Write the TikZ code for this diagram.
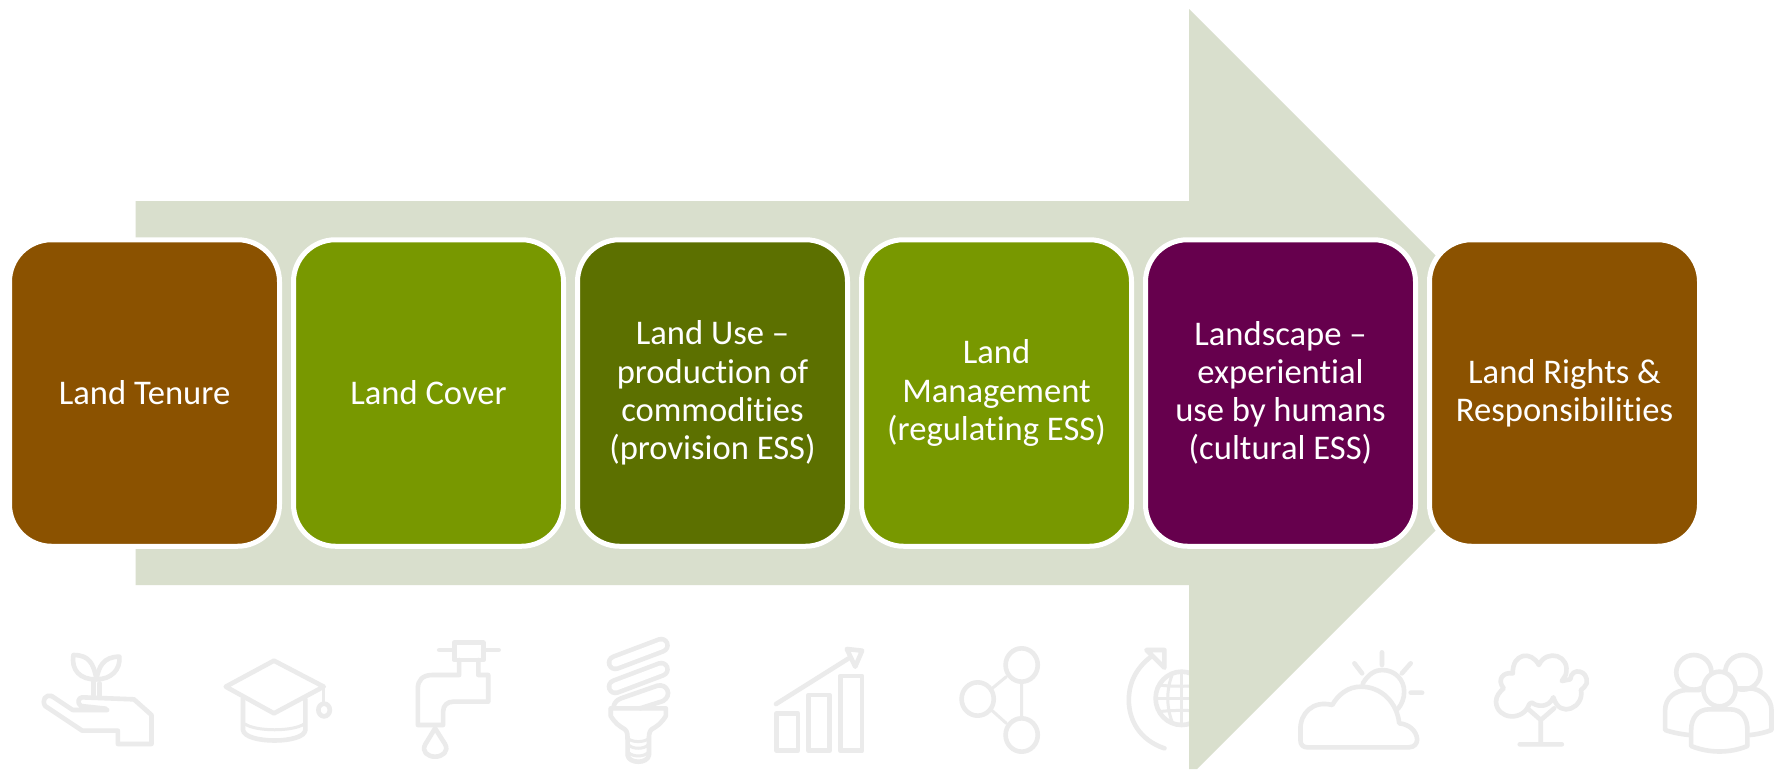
\documentclass[tikz,border=0pt]{standalone}
\usepackage{fontspec}
\setmainfont[Ligatures=CommonOff]{Carlito}
\definecolor{brownbox}{HTML}{8B5200}
\definecolor{greenbox}{HTML}{789800}
\definecolor{darkgreenbox}{HTML}{5C7000}
\definecolor{purplebox}{HTML}{66004D}
\definecolor{arrowfill}{HTML}{D9DFCD}
\definecolor{iconline}{HTML}{EBEBEB}
\tikzset{
  landbox/.style={draw=white,line width=5pt,rounded corners=42pt,minimum width=270pt,minimum height=306.5pt,
    inner sep=0pt,outer sep=0pt,text=white,align=center,font=\fontsize{34.6}{38.2}\selectfont,anchor=center},
  iconstroke/.style={draw=iconline,line width=4.6pt,line cap=round,line join=round},
  iconthin/.style={draw=iconline,line width=3pt,line cap=round,line join=round},
  iconpill/.style={draw=iconline,line width=4.6pt,line cap=round,double=white,double distance=8pt},
  zoomA/.style={x=0.38265pt,y=-0.33333pt,xshift=0pt,yshift=-620pt},
  zoomB/.style={x=0.38265pt,y=-0.33333pt,xshift=600pt,yshift=-620pt},
  zoomC/.style={x=0.38265pt,y=-0.33333pt,xshift=1183pt,yshift=-620pt},
}
\begin{document}
\begin{tikzpicture}[x=1pt,y=-1pt]
\useasboundingbox (0,0) rectangle (1783,769);
\fill[white] (0,0) rectangle (1783,769);
% icons, left group
\begin{scope}[zoomA]
  % hand with sprout
  \draw[iconstroke] (280,270) -- (190,270) -- (135,228) .. controls (120,222) and (108,240) .. (118,258) -- (215,332) -- (308,332) -- (308,372) -- (396,372) -- (396,285) -- (350,238) -- (215,232) .. controls (205,232) and (200,250) .. (212,258) -- (276,266);
  \draw[iconstroke] (245,185) -- (245,225) (260,190) -- (260,228);
  \draw[iconstroke] (192,105) .. controls (185,150) and (210,180) .. (252,178) .. controls (245,130) and (232,105) .. (192,105);
  \draw[iconstroke] (312,110) .. controls (270,110) and (258,140) .. (252,178) .. controls (290,178) and (315,150) .. (312,110);
  % mortarboard
  \draw[iconstroke] (716,122) -- (846,200) -- (716,280) -- (590,200) -- cycle;
  \draw[iconstroke] (635,235) -- (635,330) .. controls (640,372) and (795,372) .. (798,330) -- (798,238);
  \draw[iconthin] (640,312) .. controls (670,335) and (765,335) .. (795,312);
  \draw[iconthin] (846,200) -- (846,248);
  \draw[iconstroke] (847,270) ellipse (15 and 19);
  % faucet
  \draw[iconstroke] (1187,68) rectangle (1263,120);
  \draw[iconstroke] (1148,90) -- (1187,90) (1263,90) -- (1303,90);
  \draw[iconstroke] (1200,120) -- (1200,165) -- (1130,165) .. controls (1105,165) and (1092,180) .. (1092,205) -- (1092,315) -- (1158,315) -- (1158,275) .. controls (1158,255) and (1170,245) .. (1185,245) -- (1276,245) -- (1276,165) -- (1250,165) -- (1250,120);
  \draw[iconstroke] (1137,325) -- (1112,372) .. controls (1100,395) and (1118,410) .. (1137,410) .. controls (1156,410) and (1174,395) .. (1163,372) -- cycle;
\end{scope}
% icons, middle group
\begin{scope}[zoomB]
  % bulb
  \draw[iconpill] (40,128) -- (160,76);
  \draw[iconpill] (40,200) -- (160,148);
  \draw[iconstroke] (35,262) .. controls (38,245) and (45,240) .. (55,235) -- (150,197) .. controls (175,190) and (190,225) .. (165,243) -- (105,265);
  \draw[iconstroke] (28,265) -- (172,265) -- (172,288) .. controls (160,310) and (150,318) .. (135,328) .. controls (128,335) and (128,345) .. (128,360) -- (128,405) .. controls (125,432) and (75,432) .. (72,405) -- (72,360) .. controls (72,345) and (72,335) .. (65,328) .. controls (50,318) and (40,310) .. (28,288) -- cycle;
  \draw[iconthin] (75,375) .. controls (85,388) and (115,388) .. (125,375);
  \draw[iconthin] (75,398) .. controls (85,411) and (115,411) .. (125,398);
  \draw[iconthin] (72,355) .. controls (85,368) and (115,368) .. (128,355);
  % chart
  \draw[iconstroke] (462,280) rectangle (517,392);
  \draw[iconstroke] (545,225) rectangle (600,392);
  \draw[iconstroke] (628,168) rectangle (685,392);
  \draw[iconstroke] (460,252) -- (650,115);
  \draw[iconstroke] (645,87) -- (685,92) -- (667,140) -- cycle;
  % network
  \draw[iconstroke] (1102,135) ellipse (42 and 50);
  \draw[iconstroke] (987,237) ellipse (42 and 50);
  \draw[iconstroke] (1102,345) ellipse (42 and 50);
  \draw[iconthin] (1025,205) -- (1062,170) (1025,272) -- (1062,310) (1102,185) -- (1102,295);
  % globe with arrow
  \draw[iconstroke] (1475,385) .. controls (1410,360) and (1382,300) .. (1382,240) .. controls (1382,190) and (1400,145) .. (1440,110);
  \draw[iconstroke] (1428,90) -- (1475,90) -- (1475,143) -- cycle;
  \draw[iconstroke] (1520,235) ellipse (68 and 80);
  \draw[iconthin] (1520,155) -- (1520,315) (1452,235) -- (1590,235);
  \draw[iconthin] (1462,195) .. controls (1490,200) and (1550,200) .. (1580,195);
  \draw[iconthin] (1462,275) .. controls (1490,270) and (1550,270) .. (1580,275);
  \draw[iconthin] (1495,165) .. controls (1480,210) and (1480,260) .. (1495,305);
\end{scope}
% the big arrow
\fill[arrowfill] (135.5,201) -- (1189,201) -- (1189,9) -- (1573,393) -- (1197,769) -- (1189,769) -- (1189,585) -- (135.5,585) -- cycle;
% icons, right group
\begin{scope}[zoomC]
  % sun and cloud
  \draw[iconstroke] (325,382) -- (590,382) .. controls (605,382) and (612,370) .. (612,358) .. controls (610,332) and (590,312) .. (565,310) .. controls (560,250) and (520,200) .. (465,200) .. controls (430,200) and (405,225) .. (390,255) .. controls (340,240) and (305,280) .. (307,330) -- (307,362) .. controls (307,375) and (315,382) .. (325,382);
  \draw[iconstroke] (470,190) .. controls (485,160) and (505,150) .. (520,150) .. controls (555,150) and (578,180) .. (578,215) .. controls (578,235) and (572,252) .. (562,266);
  \draw[iconstroke] (520,97) -- (520,135) (448,130) -- (468,160) (595,130) -- (572,160) (595,218) -- (625,218);
  % tree
  \draw[iconstroke] (905,252) .. controls (890,305) and (820,300) .. (818,245) .. controls (818,228) and (828,215) .. (838,205) .. controls (820,180) and (835,155) .. (862,160) .. controls (860,100) and (910,90) .. (930,135) .. controls (950,85) and (1015,105) .. (1000,165) -- (990,183) -- (1012,178) .. controls (1015,140) and (1060,150) .. (1055,190) .. controls (1052,200) and (1045,205) .. (1040,210) .. controls (1050,260) and (985,300) .. (968,232) .. controls (955,265) and (925,260) .. (912,248) -- cycle;
  \draw[iconstroke] (900,265) -- (935,300) -- (970,265) (935,300) -- (935,372) (880,373) -- (990,373);
  % people
  \draw[iconstroke] (1335,157) ellipse (46 and 52);
  \draw[iconstroke] (1463,157) ellipse (46 and 52);
  \draw[iconstroke] (1322,345) .. controls (1300,342) and (1280,338) .. (1260,330) -- (1260,270) .. controls (1260,235) and (1285,212) .. (1315,210) -- (1350,210);
  \draw[iconstroke] (1482,345) .. controls (1505,342) and (1520,338) .. (1538,330) -- (1538,270) .. controls (1538,235) and (1510,205) .. (1480,205) -- (1450,205);
  \draw[iconstroke,fill=white] (1402,207) ellipse (42 and 52);
  \draw[iconstroke,fill=white] (1328,378) -- (1328,330) .. controls (1328,295) and (1345,268) .. (1375,268) -- (1430,268) .. controls (1460,268) and (1475,295) .. (1475,330) -- (1475,378) .. controls (1430,400) and (1375,400) .. (1328,378) -- cycle;
\end{scope}
% boxes
\node[landbox,fill=brownbox]     (tenure)    at (144.5,393) {Land Tenure};
\node[landbox,fill=greenbox]     (cover)     at (428.5,393) {Land Cover};
\node[landbox,fill=darkgreenbox] (use)       at (712.5,393) {Land Use –\\production of\\commodities\\(provision ESS)};
\node[landbox,fill=greenbox]     (manage)    at (996.5,393) {Land\\Management\\(regulating ESS)};
\node[landbox,fill=purplebox]    (landscape) at (1280.5,393) {Landscape –\\experiential\\use by humans\\(cultural ESS)};
\node[landbox,fill=brownbox]     (rights)    at (1564.5,393) {Land Rights \&\\Responsibilities};
\end{tikzpicture}
\end{document}
